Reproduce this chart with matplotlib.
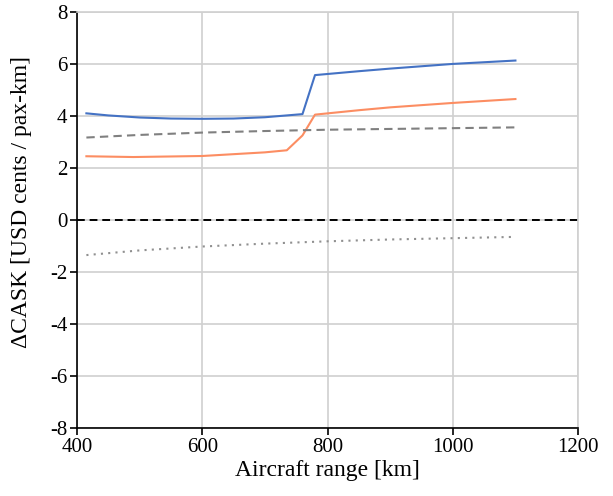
import numpy as np
import matplotlib
matplotlib.use('Agg')
import matplotlib.pyplot as plt

plt.rcParams['font.family'] = ['Liberation Serif', 'DejaVu Serif']
plt.rcParams['font.size'] = 15
plt.rcParams['axes.unicode_minus'] = False

# Seria niebieska
x_blue = [415, 450, 500, 550, 600, 650, 700, 760, 780, 850, 900, 1000, 1100]
y_blue = [4.1, 4.02, 3.94, 3.9, 3.89, 3.9, 3.95, 4.07, 5.57, 5.72, 5.82, 6.0, 6.13]

# Seria pomaranczowa
x_orange = [415, 490, 600, 700, 735, 760, 780, 850, 900, 1000, 1100]
y_orange = [2.45, 2.42, 2.46, 2.6, 2.68, 3.25, 4.05, 4.22, 4.33, 4.5, 4.65]

# Serie szare
x_gray = [415, 500, 600, 700, 800, 900, 1000, 1100]
y_dashed = [3.17, 3.27, 3.36, 3.42, 3.47, 3.5, 3.53, 3.56]
y_dotted = [-1.35, -1.17, -1.02, -0.91, -0.82, -0.75, -0.7, -0.65]

fig = plt.figure(figsize=(6.13, 4.96), dpi=100)
ax = fig.add_axes([0.1256, 0.137, 0.8174, 0.839])

grid_c = '#d0d0d0'
ax.grid(True, color=grid_c, linewidth=1.2)
ax.set_axisbelow(True)

ax.axhline(0, color='black', linestyle=(0, (4, 2.5)), linewidth=1.4)
ax.plot(x_blue, y_blue, color='#4472C4', linewidth=1.5)
ax.plot(x_orange, y_orange, color='#FC8D62', linewidth=1.5)
ax.plot(x_gray, y_dashed, color='#808080', linestyle=(0, (4, 2.5)), linewidth=1.5)
ax.plot(x_gray, y_dotted, color='#909090', linestyle=(0, (1, 2.5)), linewidth=1.5)

ax.set_xlim(400, 1200)
ax.set_ylim(-8, 8)
ax.set_xticks(np.arange(400, 1201, 200))
ax.set_yticks(np.arange(-8, 9, 2))

ax.spines['top'].set_color(grid_c)
ax.spines['right'].set_color(grid_c)
ax.spines['top'].set_linewidth(1.2)
ax.spines['right'].set_linewidth(1.2)
ax.spines['left'].set_linewidth(1.2)
ax.spines['bottom'].set_linewidth(1.2)
ax.tick_params(direction='out', length=5, width=1.2, labelsize=15, pad=2)

ax.set_xlabel('Aircraft range [km]', fontsize=17, labelpad=2)
ax.set_ylabel('ΔCASK [USD cents / pax-km]', fontsize=17)
ax.yaxis.set_label_coords(-0.09, 0.543)

fig.savefig('out.png', dpi=100)
